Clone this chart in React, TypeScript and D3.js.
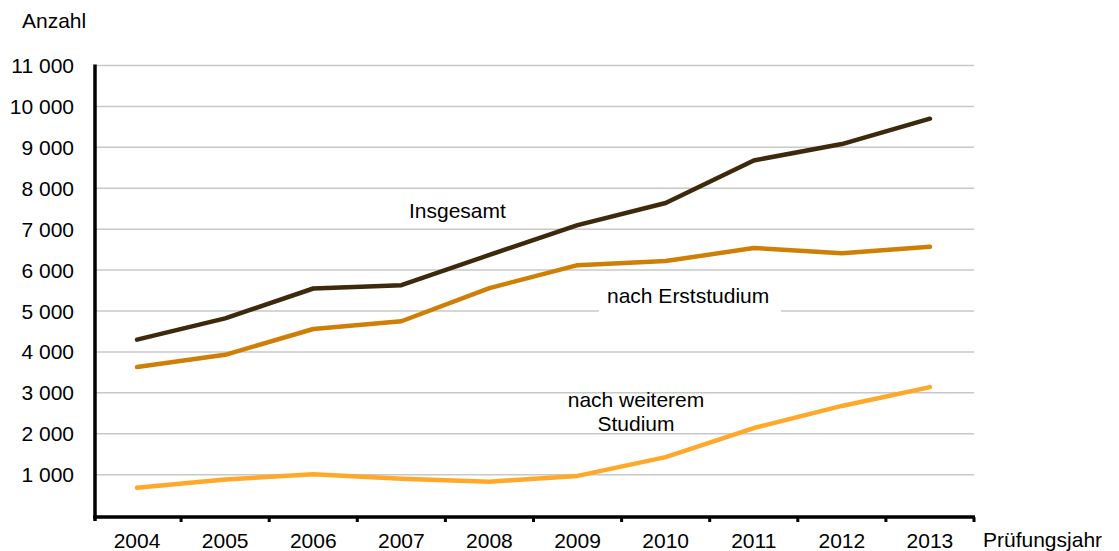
import React, { useRef, useEffect } from 'react';
import * as d3 from 'd3';

const years = ['2004', '2005', '2006', '2007', '2008', '2009', '2010', '2011', '2012', '2013'];
const insgesamt = [4300, 4820, 5550, 5630, 6370, 7100, 7640, 8680, 9080, 9700];
const erststudium = [3630, 3930, 4560, 4750, 5560, 6120, 6220, 6540, 6410, 6570];
const weiteres = [680, 880, 1010, 900, 830, 970, 1430, 2140, 2680, 3140];
const yTicks = [1000, 2000, 3000, 4000, 5000, 6000, 7000, 8000, 9000, 10000, 11000];

const FONT = 'Liberation Sans, Arial, sans-serif';
const FS = '21px';

export default function App() {
  const svgRef = useRef<SVGSVGElement>(null);

  useEffect(() => {
    if (!svgRef.current) return;
    const width = 1119;
    const height = 551;
    const svg = d3.select(svgRef.current);
    svg.selectAll('*').remove();

    const x = d3.scaleBand().domain(years).range([93, 974]);
    const y = d3.scaleLinear().domain([0, 11000]).range([515.6, 65.5]);

    // Grid lines + y labels
    yTicks.forEach((t) => {
      svg.append('line')
        .attr('x1', 95).attr('x2', 974)
        .attr('y1', y(t)).attr('y2', y(t))
        .attr('stroke', '#c8c8c8')
        .attr('stroke-width', 1.5);
      svg.append('text')
        .attr('x', 74)
        .attr('y', y(t))
        .attr('text-anchor', 'end')
        .attr('dominant-baseline', 'central')
        .attr('font-family', FONT)
        .attr('font-size', FS)
        .attr('fill', '#000')
        .text(d3.format(',')(t).replace(',', ' '));
    });

    // Axes
    svg.append('line')
      .attr('x1', 95).attr('x2', 95)
      .attr('y1', y(11000) - 1).attr('y2', 521)
      .attr('stroke', '#000').attr('stroke-width', 3.5);
    svg.append('line')
      .attr('x1', 93).attr('x2', 975)
      .attr('y1', 517).attr('y2', 517)
      .attr('stroke', '#000').attr('stroke-width', 3.5);

    const bounds = years.map((yr) => x(yr) as number).concat([974]);
    bounds.slice(1).forEach((b) => {
      svg.append('line')
        .attr('x1', b).attr('x2', b)
        .attr('y1', 517).attr('y2', 522)
        .attr('stroke', '#000').attr('stroke-width', 3);
    });

    years.forEach((yr) => {
      svg.append('text')
        .attr('x', (x(yr) as number) + x.bandwidth() / 2)
        .attr('y', 548)
        .attr('text-anchor', 'middle')
        .attr('font-family', FONT)
        .attr('font-size', FS)
        .text(yr);
    });

    const series = [
      { values: insgesamt, color: '#3d2a0c' },
      { values: erststudium, color: '#cf7f05' },
      { values: weiteres, color: '#ffa82a' },
    ];

    const line = d3.line<number>()
      .x((_, i) => (x(years[i]) as number) + x.bandwidth() / 2)
      .y((d) => y(d));

    series.forEach(({ values, color }) => {
      svg.append('path')
        .datum(values)
        .attr('fill', 'none')
        .attr('stroke', color)
        .attr('stroke-width', 4.5)
        .attr('stroke-linecap', 'round')
        .attr('stroke-linejoin', 'round')
        .attr('d', line);
    });

    // Labels
    svg.append('text')
      .attr('x', 409).attr('y', 218)
      .attr('font-family', FONT).attr('font-size', FS)
      .text('Insgesamt');

    svg.append('rect')
      .attr('x', 599).attr('y', 282).attr('width', 182).attr('height', 30)
      .attr('fill', '#fff');
    svg.append('text')
      .attr('x', 607).attr('y', 303)
      .attr('font-family', FONT).attr('font-size', FS)
      .text('nach Erststudium');

    svg.append('text')
      .attr('x', 636).attr('y', 407)
      .attr('text-anchor', 'middle')
      .attr('font-family', FONT).attr('font-size', FS)
      .text('nach weiterem');
    svg.append('text')
      .attr('x', 636).attr('y', 431)
      .attr('text-anchor', 'middle')
      .attr('font-family', FONT).attr('font-size', FS)
      .text('Studium');

    svg.append('text')
      .attr('x', 22).attr('y', 28)
      .attr('font-family', FONT).attr('font-size', FS)
      .text('Anzahl');

    svg.append('text')
      .attr('x', 983).attr('y', 547)
      .attr('font-family', FONT).attr('font-size', FS)
      .text('Prüfungsjahr');

    svg.attr('width', width).attr('height', height);
  }, []);

  return (
    <svg
      ref={svgRef}
      width={1119}
      height={551}
      style={{ position: 'absolute', left: 0, top: 0, background: '#fff' }}
    />
  );
}
